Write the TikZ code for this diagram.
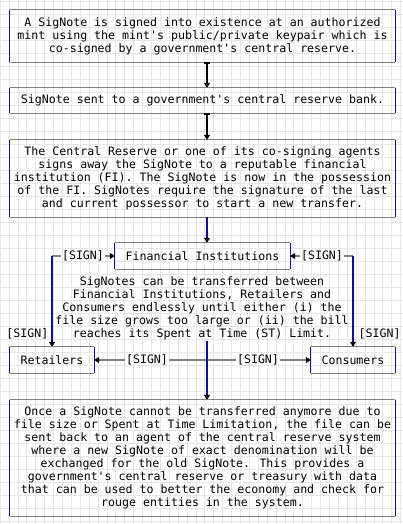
\documentclass[tikz,border=0pt]{standalone}
\usepackage{fontspec}
\newfontfamily\asciimono{DejaVu Sans Mono}
\usetikzlibrary{arrows.meta,calc}
\definecolor{navyline}{RGB}{16,16,140}
\definecolor{gridline}{RGB}{230,230,230}
\definecolor{edgegray}{RGB}{128,128,128}
\tikzset{
  txt/.style={font=\asciimono\fontsize{11.6}{13}\selectfont, align=center, inner sep=0pt, text=black},
  lbl/.style={txt, inner sep=1pt},
  wbox/.style={txt, minimum width=385pt},
  hseg/.style={draw=edgegray, line width=1.2pt},
  vseg/.style={draw=navyline, line width=1.2pt},
  kseg/.style={draw=black, line width=1.4pt},
  headend/.style={-{Triangle[width=6pt,length=5pt,color=black]}},
  barhead/.style={{Bar[width=6pt,color=black]}-{Triangle[width=6pt,length=5pt,color=black]}}
}
\newcommand\asciibox[1]{%
  \draw[hseg] (#1.north west) -- (#1.north east) (#1.south west) -- (#1.south east);
  \draw[vseg] (#1.north west) -- (#1.south west) (#1.north east) -- (#1.south east);}
\begin{document}
\begin{tikzpicture}[x=1pt,y=-1pt]
\useasboundingbox (0,0) rectangle (403,524);
% background grid
\foreach \i in {0,...,45} {\draw[gridline, line width=0.8pt] ({0.1+8.9*\i},0) -- ({0.1+8.9*\i},524);}
\foreach \i in {0,...,40} {\draw[gridline, line width=0.8pt] (0,{1.7+13*\i}) -- (403,{1.7+13*\i});}

% boxes
\node[wbox, minimum height=52pt] (b1) at (202.5,36) {A SigNote is signed into existence at an authorized\\mint using the mint's public/private keypair which is\\co-signed by a government's central reserve.};
\node[wbox, minimum height=25pt] (b2) at (202.5,100.5) {SigNote sent to a government's central reserve bank.};
\node[wbox, minimum height=77pt] (b3) at (202.5,178.5) {The Central Reserve or one of its co-signing agents\\signs away the SigNote to a reputable financial\\institution (FI). The SigNote is now in the possession\\of the FI. SigNotes require the signature of the last\\and current possessor to start a new transfer.};
\node[txt, minimum width=175pt, minimum height=26pt] (fi) at (202.5,256) {Financial Institutions};
\node[txt] (mid) at (202,308) {SigNotes can be transferred between\\Financial Institutions, Retailers and\\Consumers endlessly until either (i) the\\file size grows too large or (ii) the bill\\reaches its Spent at Time (ST) Limit.};
\node[txt, minimum width=84pt, minimum height=26pt] (ret) at (52,360) {Retailers};
\node[txt, minimum width=84pt, minimum height=26pt] (con) at (353,360) {Consumers};
\node[wbox, minimum height=116pt] (b4) at (202.5,458) {Once a SigNote cannot be transferred anymore due to\\file size or Spent at Time Limitation, the file can be\\sent back to an agent of the central reserve system\\where a new SigNote of exact denomination will be\\exchanged for the old SigNote. This provides a\\government's central reserve or treasury with data\\that can be used to better the economy and check for\\rouge entities in the system.};

\asciibox{b1}
\asciibox{b2}
\asciibox{b3}
\asciibox{fi}
\asciibox{ret}
\asciibox{con}
\asciibox{b4}

% top chain
\draw[kseg, barhead] ([xshift=4.5pt]b1.south) -- ([xshift=4.5pt]b2.north);
\draw[kseg, barhead] ([xshift=4.5pt]b2.south) -- ([xshift=4.5pt]b3.north);
\draw[vseg, headend] ([xshift=4.5pt]b3.south) -- ([xshift=4.5pt]fi.north);

% upper side connectors
\coordinate (cl) at (ret.north |- fi.west);
\coordinate (cr) at (con.north |- fi.east);
\node[lbl] (sTL) at (83,256) {[SIGN]};
\node[lbl] (sTR) at (322,256) {[SIGN]};
\draw[hseg] (cl) -- (sTL.west);
\draw[hseg, headend] (sTL.east) -- (fi.west);
\draw[hseg] (cr) -- (sTR.east);
\draw[hseg, headend] (sTR.west) -- (fi.east);
\draw[vseg, headend] (cl) -- (ret.north) node[txt, pos=0.857, anchor=east, xshift=-3pt] {[SIGN]};
\draw[vseg, headend] (cr) -- (con.north) node[txt, pos=0.857, anchor=west, xshift=5pt] {[SIGN]};

% bottom connectors
\coordinate (j) at (207,360);
\coordinate (jt) at (207,341);
\node[lbl] (sBL) at (147,360) {[SIGN]};
\node[lbl] (sBR) at (258,360) {[SIGN]};
\draw[hseg] (j) -- (sBL.east);
\draw[hseg, headend] (sBL.west) -- (ret.east);
\draw[hseg] (j) -- (sBR.west);
\draw[hseg, headend] (sBR.east) -- (con.west);
\draw[vseg, headend] (jt) -- (b4.north -| jt);
\end{tikzpicture}
\end{document}
